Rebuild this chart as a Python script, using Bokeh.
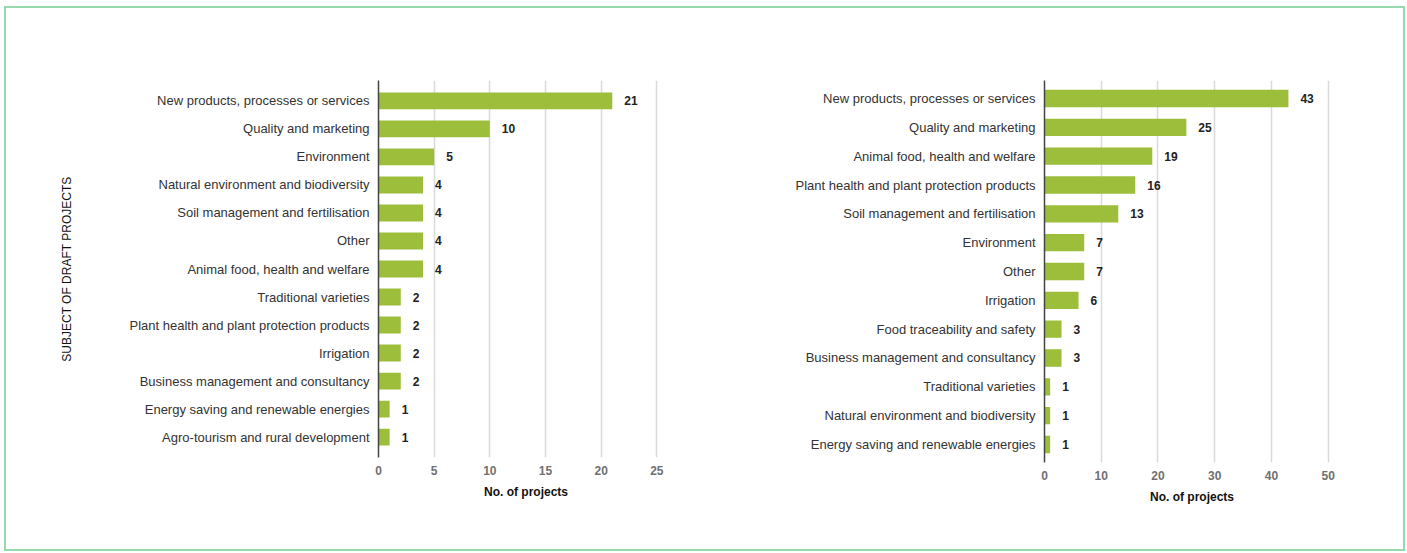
from bokeh.plotting import figure
from bokeh.models import FactorRange, Range1d, ColumnDataSource, FixedTicker
from bokeh.layouts import row
from bokeh.embed import file_html
from bokeh.resources import INLINE
from bokeh.core.properties import value

left_categories = [
    "New products, processes or services",
    "Quality and marketing",
    "Environment",
    "Natural environment and biodiversity",
    "Soil management and fertilisation",
    "Other",
    "Animal food, health and welfare",
    "Traditional varieties",
    "Plant health and plant protection products",
    "Irrigation",
    "Business management and consultancy",
    "Energy saving and renewable energies",
    "Agro-tourism and rural development",
]
left_values = [21, 10, 5, 4, 4, 4, 4, 2, 2, 2, 2, 1, 1]
left_ticks = [0, 5, 10, 15, 20, 25]

right_categories = [
    "New products, processes or services",
    "Quality and marketing",
    "Animal food, health and welfare",
    "Plant health and plant protection products",
    "Soil management and fertilisation",
    "Environment",
    "Other",
    "Irrigation",
    "Food traceability and safety",
    "Business management and consultancy",
    "Traditional varieties",
    "Natural environment and biodiversity",
    "Energy saving and renewable energies",
]
right_values = [43, 25, 19, 16, 13, 7, 7, 6, 3, 3, 1, 1, 1]
right_ticks = [0, 10, 20, 30, 40, 50]

x_title = "No. of projects"
y_title = "SUBJECT OF DRAFT PROJECTS"

FONT = "Liberation Sans"
BAR = "#9dbe3b"


def make_chart(cats, vals, ticks, xmax, frame_w, frame_h, b_left, b_top, b_right,
               total_h, pad, ylabel=None):
    factors = list(reversed(cats))
    src = ColumnDataSource(dict(c=cats, v=vals, t=[str(v) for v in vals]))
    p = figure(
        y_range=FactorRange(factors=factors, range_padding=pad,
                            range_padding_units="absolute"),
        x_range=Range1d(0, xmax),
        frame_width=frame_w, frame_height=frame_h,
        min_border_left=b_left, min_border_top=b_top,
        min_border_right=b_right,
        min_border_bottom=total_h - b_top - frame_h,
        output_backend="svg", toolbar_location=None,
    )
    p.outline_line_color = None
    p.background_fill_color = "white"
    p.border_fill_color = "white"
    p.hbar(y="c", right="v", left=0, height=0.6, source=src,
           fill_color=BAR, line_color=None)
    p.text(x="v", y="c", text="t", source=src, x_offset=12,
           text_baseline="middle", text_align="left",
           text_font=value(FONT), text_font_style="bold",
           text_font_size="12px", text_color="#222222")

    p.ygrid.grid_line_color = None
    p.xgrid.ticker = FixedTicker(ticks=ticks)
    p.xgrid.grid_line_color = "#dadada"
    p.xgrid.grid_line_width = 1.5

    p.xaxis.ticker = FixedTicker(ticks=ticks)
    p.xaxis.axis_line_color = None
    p.xaxis.major_tick_line_color = None
    p.xaxis.minor_tick_line_color = None
    p.xaxis.major_label_text_font = FONT
    p.xaxis.major_label_text_font_size = "12px"
    p.xaxis.major_label_text_font_style = "bold"
    p.xaxis.major_label_text_color = "#707070"
    p.xaxis.major_label_standoff = 2
    p.xaxis.axis_label = x_title
    p.xaxis.axis_label_text_font = FONT
    p.xaxis.axis_label_text_font_size = "12px"
    p.xaxis.axis_label_text_font_style = "bold"
    p.xaxis.axis_label_text_color = "#111111"
    p.xaxis.axis_label_standoff = 7

    p.yaxis.axis_line_color = "#444444"
    p.yaxis.axis_line_width = 1.5
    p.yaxis.major_tick_line_color = None
    p.yaxis.minor_tick_line_color = None
    p.yaxis.major_label_text_font = FONT
    p.yaxis.major_label_text_font_size = "13px"
    p.yaxis.major_label_text_color = "#333333"
    p.yaxis.major_label_standoff = 3
    if ylabel:
        p.yaxis.axis_label = ylabel
        p.yaxis.axis_label_text_font = FONT
        p.yaxis.axis_label_text_font_size = "12px"
        p.yaxis.axis_label_text_font_style = "normal"
        p.yaxis.axis_label_text_color = "#111111"
        p.yaxis.axis_label_standoff = 53
    return p


H = 541
p1 = make_chart(left_categories, left_values, left_ticks, 26.5,
                frame_w=295, frame_h=377, b_left=372, b_top=72, b_right=47,
                total_h=H, pad=0.23, ylabel=y_title)
p2 = make_chart(right_categories, right_values, right_ticks, 52,
                frame_w=295, frame_h=382, b_left=324, b_top=72, b_right=64,
                total_h=H, pad=0.125)

layout = row(p1, p2, styles={"border": "2px solid #95d9ad",
                             "background-color": "white",
                             "margin-left": "4px", "margin-top": "6px"})

open("out.html", "w").write(file_html(layout, INLINE))
